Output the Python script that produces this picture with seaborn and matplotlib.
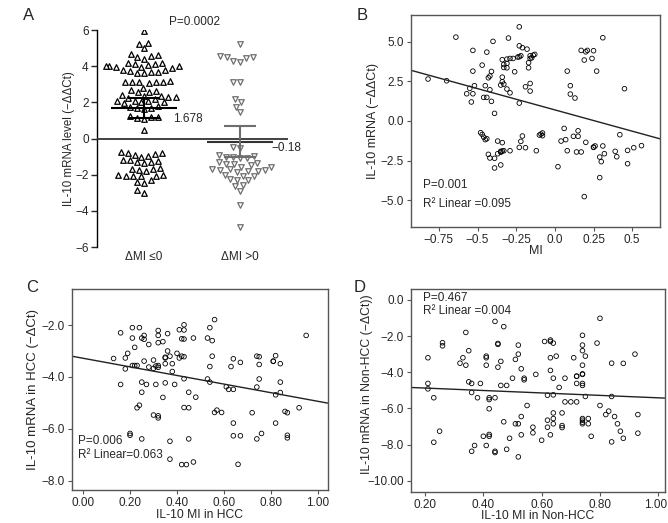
import matplotlib
matplotlib.use('Agg')
import matplotlib.pyplot as plt
import matplotlib.transforms as mtrans
import numpy as np
import pandas as pd
import seaborn as sns

sns.set_style('ticks')
plt.rcParams['font.family'] = ['Liberation Sans', 'DejaVu Sans']

# ---- panel A: IL-10 level by change of MI ----
groups = ['ΔMI ≤0', 'ΔMI >0']
neg_mi = [5.95, 5.3, 5.0, 5.25,
          4.7, 4.55, 4.4, 4.5, 4.6,
          4.2, 4.1, 4.0, 4.05, 3.95, 4.15, 4.0, 3.9, 4.1, 3.95, 4.0,
          3.8, 3.75, 3.7, 3.65, 3.8, 3.6, 3.7,
          3.15, 3.1, 3.1, 3.15, 3.1, 3.05, 3.2,
          2.7, 2.6, 2.65, 2.55, 2.8,
          2.35, 2.3, 2.2, 2.4, 2.25, 2.3, 2.35,
          2.1, 2.05, 2.0, 1.95, 2.1, 2.0,
          1.75, 1.7, 1.65, 1.8, 1.7,
          1.25, 1.2, 1.15, 1.2, 1.1,
          0.45,
          -0.75, -0.8, -0.85, -0.9, -0.95, -1.0, -0.8,
          -1.2, -1.25, -1.3, -1.35, -1.3, -1.2,
          -1.65, -1.7, -1.75, -1.8, -1.7,
          -2.0, -2.05, -2.1, -2.0, -2.1, -2.05,
          -2.3, -2.4, -2.45,
          -2.85, -3.0]
pos_mi = [5.25,
          4.55, 4.5, 4.45, 4.5,
          4.25, 4.3,
          3.15, 3.15,
          2.2, 2.0, 1.75, 1.45,
          -0.45, -0.5,
          -0.9, -0.95, -1.0, -1.05, -1.0, -1.1,
          -1.3, -1.35, -1.4, -1.45, -1.4, -1.55, -1.55,
          -1.7, -1.75, -1.8, -1.85, -1.7, -1.8, -1.75,
          -2.0, -2.05, -2.1,
          -2.25, -2.3, -2.3,
          -2.55, -2.65, -2.9,
          -3.65,
          -4.9]
group_means = [1.678, -0.18]
ci_low = [1.12, -1.03]
ci_high = [2.25, 0.68]

# ---- panel B: MI vs IL-10 ----
b_mi = [-0.23, -0.64, 0.31, -0.40, -0.30, -0.53, -0.44, -0.23, -0.21, -0.18, 0.17, 0.20, 0.21, 0.25,
        -0.34, -0.31, -0.29, -0.27, -0.24, -0.23, -0.22, -0.16, -0.15, -0.14, -0.13, -0.16, 0.19, 0.24,
        -0.47, -0.33, -0.31, -0.17, -0.33, -0.31, -0.17, -0.53, -0.41, -0.26, 0.08, 0.27,
        -0.42, -0.43, -0.34, -0.82, -0.70, -0.34, -0.35, -0.33, -0.16, -0.52, -0.55, -0.45, -0.42, -0.31, -0.19, 0.10, 0.45,
        -0.57, -0.53, -0.29, -0.16, 0.10, -0.46, -0.44, 0.13, -0.54, -0.41, -0.23, -0.39,
        -0.48, -0.47, -0.46, -0.44, -0.45, -0.09, -0.08, -0.10, -0.08, 0.06, 0.15, 0.12, 0.15, 0.04, 0.07, -0.21, -0.22, 0.42, 0.20, -0.37, -0.34, -0.23, -0.19, -0.12,
        -0.43, -0.42, -0.39, -0.37, -0.35, -0.34, -0.33, -0.35, -0.29, 0.08, 0.14, 0.17, 0.25, 0.26, 0.25, 0.31, 0.32, 0.29, 0.30, 0.39, 0.40, 0.47, 0.51, 0.56, 0.47,
        -0.35, -0.39, 0.02, 0.29, 0.19]
b_il10 = [5.95, 5.30, 5.26, 5.03, 5.24, 4.46, 4.35, 4.75, 4.63, 4.54, 4.46, 4.37, 4.46, 4.44,
          3.87, 3.91, 3.95, 3.95, 4.04, 4.06, 4.12, 4.12, 3.99, 4.16, 4.21, 3.95, 3.85, 3.95,
          3.53, 3.57, 3.64, 3.68, 3.38, 3.36, 3.36, 3.15, 3.13, 3.11, 3.15, 3.15,
          2.84, 2.73, 2.77, 2.65, 2.54, 2.48, 2.27, 2.33, 2.37, 2.23, 2.06, 2.23, 1.97, 2.02, 2.16, 2.23, 2.04,
          1.72, 1.72, 1.78, 1.89, 1.70, 1.49, 1.49, 1.45, 1.20, 1.24, 1.13, 0.48,
          -0.74, -0.85, -1.02, -1.12, -1.18, -0.83, -0.76, -0.89, -0.93, -0.47, -0.62, -0.97, -0.97, -1.27, -1.18, -0.95, -1.29, -0.87, -1.35, -1.27, -1.37, -1.67, -1.69, -1.88,
          -2.11, -2.34, -2.36, -2.07, -1.92, -1.90, -1.88, -1.98, -1.88, -1.88, -1.96, -1.96, -1.65, -1.58, -1.67, -1.58, -2.07, -2.28, -2.57, -1.92, -2.26, -1.86, -1.69, -1.56, -2.70,
          -2.78, -2.97, -2.89, -3.58, -4.78]
b_fit = [0.70, -2.69]  # intercept, slope of the fitted line

# ---- panel C: MI vs IL-10 in HCC ----
c_mi = [0.56, 0.43, 0.21, 0.24, 0.41, 0.43, 0.54, 0.16, 0.32, 0.36, 0.26, 0.25, 0.21, 0.26, 0.32, 0.42, 0.43, 0.47, 0.53, 0.55,
        0.28, 0.32, 0.34, 0.22, 0.36, 0.95, 0.19, 0.37, 0.40, 0.42, 0.41, 0.43, 0.35, 0.35, 0.55,
        0.13, 0.18, 0.26, 0.30, 0.74, 0.75, 0.82, 0.64, 0.67,
        0.21, 0.22, 0.23, 0.18, 0.28, 0.30, 0.31, 0.32, 0.32, 0.35, 0.38, 0.54, 0.63, 0.75, 0.81, 0.81, 0.84,
        0.38,
        0.16, 0.25, 0.27, 0.31, 0.35, 0.39, 0.43, 0.53, 0.54, 0.75, 0.84,
        0.61, 0.62, 0.64, 0.74,
        0.25, 0.45, 0.34, 0.48, 0.82, 0.84,
        0.24, 0.23, 0.43, 0.45,
        0.57, 0.56, 0.59, 0.72, 0.86, 0.87, 0.92,
        0.30, 0.32, 0.32,
        0.64, 0.82,
        0.20, 0.20, 0.25, 0.45, 0.64, 0.67, 0.76, 0.74, 0.87, 0.87,
        0.37,
        0.37, 0.47, 0.42, 0.44, 0.66]
c_il10 = [-1.79, -1.99, -2.10, -2.10, -2.18, -2.19, -2.10, -2.30, -2.21, -2.33, -2.40, -2.50, -2.50, -2.55, -2.40, -2.53, -2.54, -2.50, -2.50, -2.60,
          -2.75, -2.68, -2.64, -2.86, -3.00, -2.40, -3.09, -3.20, -3.09, -3.20, -3.27, -3.22, -3.27, -3.24, -3.20,
          -3.29, -3.27, -3.39, -3.35, -3.20, -3.22, -3.18, -3.30, -3.44,
          -3.56, -3.56, -3.56, -3.69, -3.62, -3.67, -3.58, -3.56, -3.63, -3.49, -3.49, -3.60, -3.60, -3.52, -3.40, -3.39, -3.49,
          -3.79,
          -4.29, -4.20, -4.29, -4.29, -4.23, -4.29, -4.07, -4.08, -4.20, -4.08, -4.20,
          -4.38, -4.48, -4.48, -4.39,
          -4.59, -4.59, -4.79, -4.78, -4.69, -4.60,
          -5.09, -5.19, -5.18, -5.19,
          -5.28, -5.37, -5.37, -5.38, -5.33, -5.38, -5.19,
          -5.47, -5.50, -5.58,
          -5.78, -5.78,
          -6.18, -6.25, -6.39, -6.39, -6.27, -6.27, -6.18, -6.39, -6.25, -6.35,
          -6.48,
          -7.17, -7.28, -7.38, -7.38, -7.37]
c_fit = [-3.28, -1.66]

# ---- panel D: MI vs IL-10 in Non-HCC ----
d_mi = [0.80, 0.44, 0.47, 0.34, 0.74,
        0.26, 0.26, 0.45, 0.45, 0.52, 0.61, 0.63, 0.63, 0.64, 0.79, 0.74,
        0.35, 0.74, 0.92,
        0.21, 0.33, 0.41, 0.41, 0.52, 0.51, 0.46, 0.65, 0.71, 0.63, 0.75,
        0.32, 0.34, 0.41, 0.45, 0.53, 0.63, 0.74, 0.84, 0.88,
        0.50, 0.54, 0.54, 0.58, 0.64, 0.68, 0.72, 0.72, 0.74, 0.74,
        0.35, 0.36, 0.39, 0.46, 0.48, 0.66, 0.72, 0.74, 0.74,
        0.21, 0.21,
        0.36, 0.38, 0.42, 0.42, 0.44, 0.62, 0.64, 0.75, 0.84,
        0.23, 0.42, 0.55, 0.68, 0.70, 0.72,
        0.80, 0.82, 0.83, 0.85, 0.93,
        0.53, 0.64, 0.64, 0.67, 0.62, 0.74, 0.74, 0.74, 0.74, 0.76, 0.76,
        0.47, 0.51, 0.52, 0.64, 0.57, 0.62, 0.67, 0.67, 0.86,
        0.25, 0.40, 0.42, 0.42, 0.49, 0.53, 0.57, 0.63, 0.77, 0.87, 0.88,
        0.23, 0.60, 0.84, 0.93,
        0.37, 0.41, 0.36, 0.48, 0.44, 0.44, 0.52]
d_il10 = [-1.02, -1.19, -1.48, -1.80, -1.96,
          -2.37, -2.54, -2.41, -2.46, -2.50, -2.30, -2.22, -2.30, -2.39, -2.39, -2.50,
          -2.81, -2.81, -3.00,
          -3.20, -3.20, -3.11, -3.20, -3.00, -3.29, -3.40, -3.11, -3.20, -3.20, -3.11,
          -3.50, -3.61, -3.61, -3.72, -3.81, -3.90, -3.61, -3.50, -3.51,
          -4.33, -4.33, -4.42, -4.12, -4.33, -4.33, -4.22, -4.22, -4.12, -4.09,
          -4.53, -4.62, -4.62, -4.73, -4.73, -4.84, -4.62, -4.73, -4.62,
          -4.62, -4.92,
          -5.12, -5.41, -5.41, -5.51, -5.41, -5.27, -5.25, -5.34, -5.34,
          -5.41, -6.02, -5.84, -5.64, -5.64, -5.64,
          -5.84, -6.34, -6.15, -6.45, -6.34,
          -6.45, -6.25, -6.56, -6.25, -6.65, -6.56, -6.65, -6.76, -6.85, -6.56, -6.85,
          -6.74, -6.85, -6.85, -6.85, -7.04, -7.04, -6.95, -7.06, -6.85,
          -7.26, -7.54, -7.44, -7.54, -7.65, -7.46, -7.35, -7.46, -7.54, -7.26, -7.65,
          -7.87, -7.76, -7.85, -7.37,
          -8.05, -8.05, -8.37, -8.26, -8.37, -8.44, -8.68]
d_fit = [-4.74, -0.675]

TICK = 8.5

fig = plt.figure(figsize=(6.68, 5.23), dpi=100)

# panel A
axA = fig.add_axes([0.1452, 0.5277, 0.2859, 0.4149])
dfA1 = pd.DataFrame({'group': groups[0], 'value': neg_mi})
dfA2 = pd.DataFrame({'group': groups[1], 'value': pos_mi})
sns.swarmplot(data=dfA1, x='group', y='value', order=groups, ax=axA, marker='^',
              color='white', edgecolor='black', linewidth=0.9, size=4.0)
sns.swarmplot(data=dfA2, x='group', y='value', order=groups, ax=axA, marker='v',
              color='white', edgecolor='#6e6e6e', linewidth=0.9, size=4.0)
bar_cols = ['black', '#6e6e6e']
mean_cols = ['black', '#333333']
for i in range(2):
    axA.hlines(group_means[i], i - 0.34, i + 0.34, color=mean_cols[i], lw=1.5, zorder=5)
    axA.vlines(i, ci_low[i], ci_high[i], color=bar_cols[i], lw=1.5, zorder=5)
    axA.hlines([ci_low[i], ci_high[i]], i - 0.17, i + 0.17, color=bar_cols[i], lw=1.5, zorder=5)
axA.axhline(0, color='#333333', lw=1.3, zorder=4)
axA.set_xlim(-0.49, 1.5)
axA.set_ylim(-6, 6)
axA.set_yticks([6, 4, 2, 0, -2, -4, -6])
axA.tick_params(axis='y', labelsize=TICK, length=4, width=1, direction='out', pad=2)
axA.tick_params(axis='x', labelsize=TICK, length=0, pad=3)
for s in ['top', 'right', 'bottom']:
    axA.spines[s].set_visible(False)
axA.spines['left'].set_linewidth(1)
axA.spines['left'].set_color('black')
axA.set_xlabel('')
axA.set_ylabel('IL-10 mRNA level (−ΔΔCt)', fontsize=8.3)
axA.yaxis.set_label_coords(-0.115, 0.5)
axA.text(0.30, 1.07, '1.678', fontsize=TICK, va='center', ha='left')
axA.text(1.33, -0.54, '−0.18', fontsize=TICK, va='center', ha='left')
axA.text(0.53, 6.45, 'P=0.0002', fontsize=TICK, va='center', ha='center')


def scatter_panel(ax, x, y, fit, xlim, ylim):
    df = pd.DataFrame({'mi': x, 'il10': y})
    sns.scatterplot(data=df, x='mi', y='il10', ax=ax, marker='o', s=11,
                    facecolors='none', edgecolor='black', linewidth=0.6)
    xs = np.array(xlim)
    ax.plot(xs, fit[0] + fit[1] * xs, color='#222222', lw=1.0)
    ax.set_xlim(xlim)
    ax.set_ylim(ylim)
    for s in ax.spines.values():
        s.set_color('#555555')
        s.set_linewidth(1.0)
    ax.tick_params(labelsize=TICK, length=3, width=0.8, color='#555555', pad=2)


# panel B
axB = fig.add_axes([0.6153, 0.5660, 0.3728, 0.4054])
scatter_panel(axB, b_mi, b_il10, b_fit, (-0.93, 0.68), (-6.7, 6.7))
axB.set_xticks([-0.75, -0.5, -0.25, 0, 0.25, 0.5])
axB.set_xticklabels(['−0.75', '−0.5', '−0.25', '0.0', '0.25', '0.5'])
axB.set_yticks([5, 2.5, 0, -2.5, -5])
axB.set_yticklabels(['5.0', '2.5', '0.0', '−2.5', '−5.0'])
axB.set_xlabel('MI', fontsize=9)
axB.set_ylabel('IL-10 mRNA (−ΔΔCt)', fontsize=9)
axB.xaxis.set_label_coords(0.5, -0.085)
axB.yaxis.set_label_coords(-0.128, 0.5)
axB.text(0.048, 0.198, 'P=0.001', transform=axB.transAxes, fontsize=TICK, va='center')
axB.text(0.048, 0.108, 'R² Linear =0.095', transform=axB.transAxes, fontsize=TICK, va='center')

# panel C
axC = fig.add_axes([0.1078, 0.0631, 0.3832, 0.3843])
scatter_panel(axC, c_mi, c_il10, c_fit, (-0.047, 1.043), (-8.36, -0.61))
axC.set_xticks([0, 0.2, 0.4, 0.6, 0.8, 1.0])
axC.set_xticklabels(['0.00', '0.20', '0.40', '0.60', '0.80', '1.00'])
axC.set_yticks([-2, -4, -6, -8])
axC.set_yticklabels(['−2.0', '−4.0', '−6.0', '−8.0'])
axC.set_xlabel('IL-10 MI in HCC', fontsize=8.7)
axC.set_ylabel('IL-10 mRNA in HCC (−ΔCt)', fontsize=9.5)
axC.xaxis.set_label_coords(0.5, -0.095)
axC.yaxis.set_label_coords(-0.13, 0.5)
axC.text(0.023, 0.244, 'P=0.006', transform=axC.transAxes, fontsize=TICK, va='center')
axC.text(0.023, 0.174, 'R² Linear=0.063', transform=axC.transAxes, fontsize=TICK, va='center')

# panel D
axD = fig.add_axes([0.6153, 0.0593, 0.3802, 0.3881])
scatter_panel(axD, d_mi, d_il10, d_fit, (0.152, 1.023), (-10.62, 0.6))
axD.set_xticks([0.2, 0.4, 0.6, 0.8, 1.0])
axD.set_xticklabels(['0.20', '0.40', '0.60', '0.80', '1.00'])
axD.set_yticks([0, -2, -4, -6, -8, -10])
axD.set_yticklabels(['0.0', '−2.0', '−4.0', '−6.0', '−8.0', '−10.00'])
axD.set_xlabel('IL-10 MI in Non-HCC', fontsize=8.7)
axD.set_ylabel('IL-10 mRNA in Non-HCC (−ΔCt))', fontsize=8.8)
axD.xaxis.set_label_coords(0.5, -0.089)
axD.yaxis.set_label_coords(-0.15, 0.53)
# keep the last tick label inside the figure edge
last = axD.get_xticklabels()[-1]
last.set_transform(last.get_transform() + mtrans.ScaledTranslation(-3 / 100, 0, fig.dpi_scale_trans))
axD.text(0.046, 0.956, 'P=0.467', transform=axD.transAxes, fontsize=TICK, va='center')
axD.text(0.046, 0.892, 'R² Linear =0.004', transform=axD.transAxes, fontsize=TICK, va='center')

# panel letters
for lbl, x, y in [('A', 29, 16), ('B', 362, 15), ('C', 32, 288), ('D', 360, 288)]:
    fig.text(x / 668, 1 - y / 523, lbl, fontsize=12, ha='center', va='center')

fig.savefig('out.png', dpi=100)
